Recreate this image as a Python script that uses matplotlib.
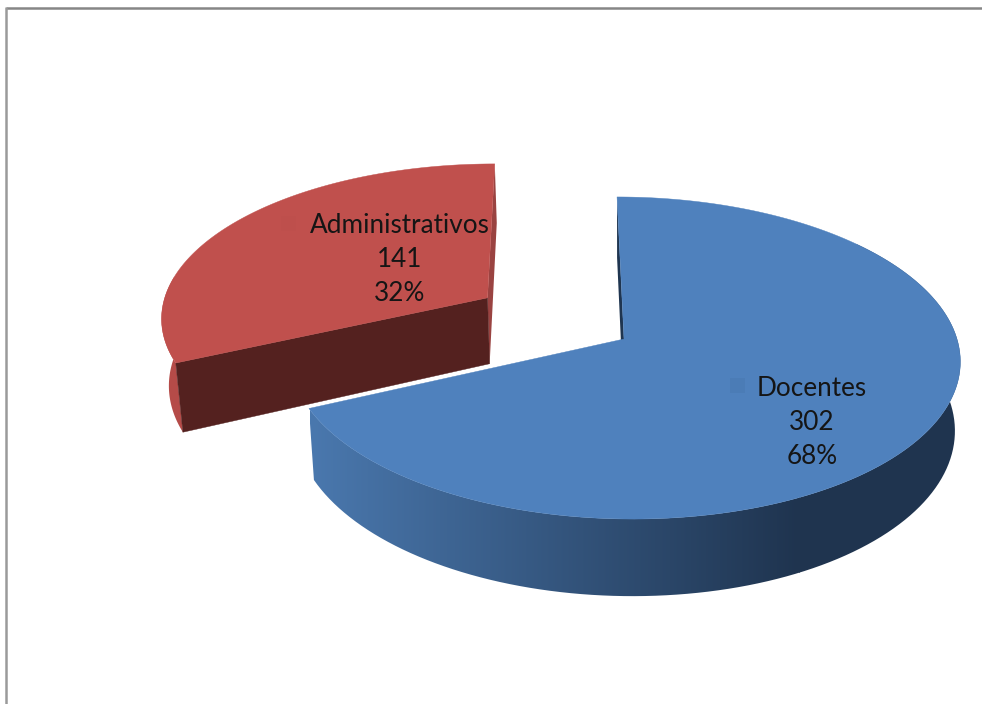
import matplotlib
matplotlib.use("Agg")
import matplotlib.pyplot as plt
from matplotlib.patches import Polygon, Rectangle
from matplotlib.colors import LinearSegmentedColormap
import numpy as np

categories = ["Docentes", "Administrativos"]
counts = [302, 141]

# projection of the tilted disc, in pixels of the 982x704 image
RX, RY, PERSP = 333, 158.8, 0.118
VANISH_X, APEX_X, APEX_Y = 558, 624, 339
DEPTH, BASE_X, BASE_SCALE = 68, 620, 0.984
EXPLODE = 0.495


def project(u, v):
    den = 1 + PERSP * v
    return VANISH_X + (APEX_X - VANISH_X + RX * u) / den, APEX_Y - RY * v / den


def drop(u, v):
    # same point on the lower face of the slab
    x, y = project(u, v)
    return BASE_X + (x - BASE_X) * BASE_SCALE, y + DEPTH / (1 + PERSP * v)


def disc_point(a, off):
    return np.cos(a) + off[0], np.sin(a) + off[1]


def outer_wall(a0, a1, off):
    angles = np.linspace(a0, a1, 120)
    pts = [disc_point(a, off) for a in angles]
    return [project(*p) for p in pts] + [drop(*p) for p in pts[::-1]]


fig = plt.figure(figsize=(9.82, 7.04), dpi=100)
ax = fig.add_axes([0, 0, 1, 1])

# chart frame, only top and left survive the crop
ax.plot([6, 982], [8, 8], color="#868686", lw=1.8, solid_capstyle="butt")
ax.plot([6, 6], [7, 704], color="#9a9a9a", lw=1.8, solid_capstyle="butt")

fractions = np.array(counts) / sum(counts)
blue_a0 = np.pi / 2
blue_a1 = blue_a0 - 2 * np.pi * fractions[0]
red_a0 = blue_a1 + 2 * np.pi
red_a1 = blue_a0
mid = (red_a0 + red_a1) / 2
red_off = (EXPLODE * np.cos(mid), EXPLODE * np.sin(mid))
blue_off = (0.0, 0.0)

# blue slice: thin radial wall at the top, then the outer wall shaded by x
wall = [project(0, 1), drop(0, 1), drop(0, 0), project(0, 0)]
ax.add_patch(Polygon(wall, fc="#1F3550", ec="none", zorder=2))

side = Polygon(outer_wall(blue_a1, np.radians(40), blue_off), fc="none", ec="none", zorder=3)
ax.add_patch(side)
shade = LinearSegmentedColormap.from_list("side", ["#4A78AE", "#1F344F"])
img = ax.imshow(np.linspace(0, 1, 256)[None, :], cmap=shade, extent=(310, 800, 704, 0),
                aspect="auto", zorder=3)
img.set_clip_path(side)
dark = ax.add_patch(Rectangle((799, 0), 183, 704, fc="#1F344F", ec="none", zorder=3))
dark.set_clip_path(side)

arc = np.linspace(blue_a0, blue_a1, 240)
top = [project(*disc_point(a, blue_off)) for a in arc] + [project(0, 0)]
ax.add_patch(Polygon(top, fc="#4F81BD", ec="#4F81BD", lw=0.3, zorder=4))

# red slice
wall = [project(*disc_point(red_a1, red_off)), drop(*disc_point(red_a1, red_off)),
        drop(*red_off), project(*red_off)]
ax.add_patch(Polygon(wall, fc="#9A4341", ec="none", zorder=5))

ax.add_patch(Polygon(outer_wall(np.radians(172), red_a0, red_off), fc="#B54B48", ec="none", zorder=5))

end = disc_point(red_a0, red_off)
wall = [project(*red_off), project(*end), drop(*end), drop(*red_off)]
ax.add_patch(Polygon(wall, fc="#54211F", ec="#54211F", lw=0.3, zorder=6))

arc = np.linspace(red_a1, red_a0, 120)
top = [project(*disc_point(a, red_off)) for a in arc] + [project(*red_off)]
ax.add_patch(Polygon(top, fc="#C0504D", ec="#C0504D", lw=0.3, zorder=7))

# data labels with their faint legend keys
label_pos = [(812, 396), (400, 233)]
key_col = ["#4B7CB6", "#BE4F4C"]
key_pos = [(730, 378), (281, 216)]
for i, name in enumerate(categories):
    x, y = label_pos[i]
    ax.add_patch(Rectangle(key_pos[i], 15, 15, fc=key_col[i], ec="none", zorder=8))
    lines = [name, str(counts[i]), "%d%%" % round(fractions[i] * 100)]
    for j, line in enumerate(lines):
        ax.text(x, y + j * 34, line, family="Lato", fontsize=18.8, color="#151515",
                ha="center", va="baseline", zorder=9)

ax.set_xlim(0, 982)
ax.set_ylim(704, 0)
ax.axis("off")

fig.savefig("out.png", dpi=100)
